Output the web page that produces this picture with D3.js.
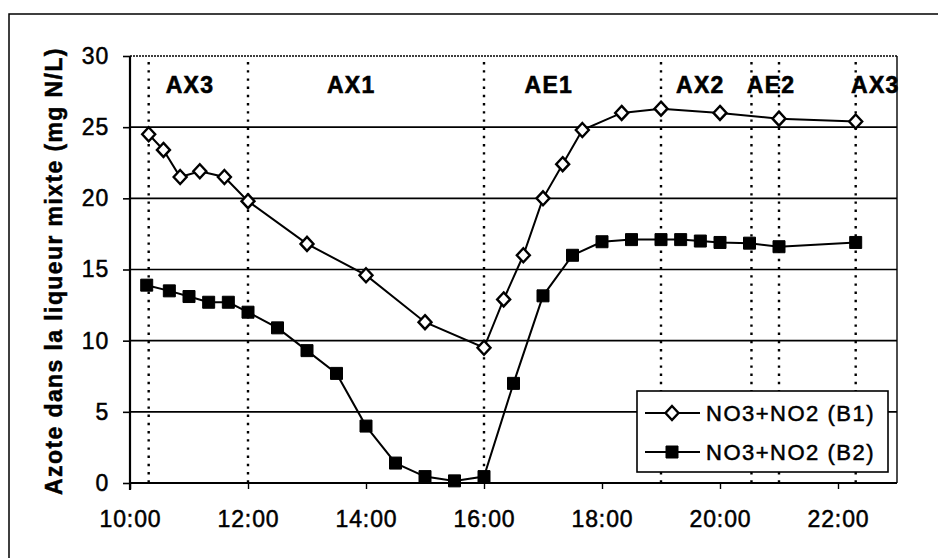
<!DOCTYPE html>
<html>
<head>
<meta charset="utf-8">
<script src="https://cdn.jsdelivr.net/npm/d3@7/dist/d3.min.js"></script>
<style>
  html, body { margin: 0; padding: 0; background: #fff; }
  svg { display: block; font-family: "Liberation Sans", Arial, sans-serif; }
</style>
</head>
<body>
<svg id="chart" width="938" height="558"></svg>
<script>
// Sampling times and NO3+NO2 concentrations (mg N/L) for the two basins
const b1Times  = ["10:19","10:34","10:51","11:11","11:36","12:00","13:00","14:00","15:00","16:00","16:20","16:40","17:00","17:20","17:40","18:20","19:00","20:00","21:00","22:18"];
const b1Values = [24.5, 23.4, 21.5, 21.9, 21.5, 19.8, 16.8, 14.6, 11.3, 9.5, 12.9, 16.0, 20.0, 22.4, 24.8, 26.0, 26.3, 26.0, 25.6, 25.4];

const b2Times  = ["10:17","10:40","11:00","11:20","11:40","12:00","12:30","13:00","13:30","14:00","14:30","15:00","15:30","16:00","16:30","17:00","17:30","18:00","18:30","19:00","19:20","19:40","20:00","20:30","21:00","22:18"];
const b2Values = [13.9, 13.5, 13.1, 12.7, 12.7, 12.0, 10.9, 9.3, 7.7, 4.0, 1.4, 0.45, 0.15, 0.45, 7.0, 13.15, 16.0, 16.95, 17.1, 17.1, 17.1, 17.0, 16.9, 16.85, 16.6, 16.9];

// Phase boundaries and phase names (anoxic / aerobic)
const phaseBounds = ["10:19","12:00","16:00","19:00","20:32","21:00","22:18"];
const phaseNames  = ["AX3","AX1","AE1","AX2","AE2","AX3"];
const phaseLabelTimes = ["11:01","13:45","17:06","19:40","20:52","22:38"];

const seriesNames = ["NO3+NO2 (B1)", "NO3+NO2 (B2)"];
const xTickTimes  = ["10:00","12:00","14:00","16:00","18:00","20:00","22:00"];
const yTicks      = [0, 5, 10, 15, 20, 25, 30];
const xDomain     = ["10:00","23:00"];
const yTitle      = "Azote dans la liqueur mixte (mg N/L)";

const toHours = s => { const [h, m] = s.split(":").map(Number); return h + m / 60; };

const svg = d3.select("#chart");
const plotLeft = 130, plotRight = 897, plotTop = 56, plotBottom = 483;

const x = d3.scaleLinear().domain(xDomain.map(toHours)).range([plotLeft, plotRight]);
const y = d3.scaleLinear().domain([0, 30]).range([plotBottom, plotTop]);

// outer chart frame
svg.append("rect")
  .attr("x", 9).attr("y", 14).attr("width", 960).attr("height", 580)
  .attr("fill", "none").attr("stroke", "#000").attr("stroke-width", 1.5);

// horizontal gridlines
svg.append("g").selectAll("line")
  .data(yTicks.filter(v => v > 0 && v < 30))
  .join("line")
  .attr("x1", plotLeft).attr("x2", plotRight)
  .attr("y1", d => y(d)).attr("y2", d => y(d))
  .attr("stroke", "#000").attr("stroke-width", 1.6);

// plot border: dotted top, solid right
svg.append("line")
  .attr("x1", plotLeft).attr("x2", plotRight).attr("y1", y(30)).attr("y2", y(30))
  .attr("stroke", "#000").attr("stroke-width", 1.4).attr("stroke-dasharray", "2 1");
svg.append("line")
  .attr("x1", plotRight).attr("x2", plotRight).attr("y1", y(30)).attr("y2", y(0))
  .attr("stroke", "#000").attr("stroke-width", 1.4);

// phase boundaries (dotted verticals)
svg.append("g").selectAll("line")
  .data(phaseBounds)
  .join("line")
  .attr("x1", d => x(toHours(d))).attr("x2", d => x(toHours(d)))
  .attr("y1", y(30) + 6).attr("y2", y(0))
  .attr("stroke", "#000").attr("stroke-width", 2.4)
  .attr("stroke-dasharray", "2.4 5.8");

// phase labels
svg.append("g").selectAll("text")
  .data(phaseNames)
  .join("text")
  .attr("x", (d, i) => x(toHours(phaseLabelTimes[i])))
  .attr("y", 93)
  .attr("text-anchor", "middle")
  .attr("font-size", 23).attr("font-weight", "bold")
  .attr("letter-spacing", 1.3)
  .attr("stroke", "#000").attr("stroke-width", 0.6)
  .text(d => d);

// y axis
const yAxis = d3.axisLeft(y).tickValues(yTicks).tickSize(7).tickPadding(14).tickFormat(d3.format("d"));
const gy = svg.append("g").attr("transform", `translate(${plotLeft},0)`).call(yAxis);
gy.select(".domain").attr("stroke-width", 2.2).attr("d", `M0,${y(30)}V${y(0) + 7}`);
gy.selectAll(".tick line").attr("stroke-width", 1.6);
gy.selectAll(".tick text")
  .attr("font-size", 23).attr("letter-spacing", 0.8)
  .attr("stroke", "#000").attr("stroke-width", 0.5)
  .attr("font-family", "Liberation Sans, Arial, sans-serif").attr("fill", "#000");

// x axis
const xAxis = d3.axisBottom(x).tickValues(xTickTimes.map(toHours)).tickSize(6).tickPadding(22)
  .tickFormat((d, i) => xTickTimes[i]);
const gx = svg.append("g").attr("transform", `translate(0,${plotBottom})`).call(xAxis);
gx.select(".domain").attr("stroke-width", 2.2).attr("d", `M${plotLeft},0H${plotRight}`);
gx.selectAll(".tick line").attr("stroke-width", 1.4);
gx.selectAll(".tick text")
  .attr("font-size", 23).attr("letter-spacing", 0.9)
  .attr("stroke", "#000").attr("stroke-width", 0.5)
  .attr("font-family", "Liberation Sans, Arial, sans-serif").attr("fill", "#000");

// y axis title
svg.append("text")
  .attr("transform", `translate(62,271) rotate(-90)`)
  .attr("text-anchor", "middle")
  .attr("font-size", 23).attr("font-weight", "bold")
  .attr("letter-spacing", 1.4)
  .attr("stroke", "#000").attr("stroke-width", 0.5)
  .text(yTitle);

// series
const line = d3.line().x(d => x(d.t)).y(d => y(d.v));
const b1 = b1Times.map((t, i) => ({ t: toHours(t), v: b1Values[i] }));
const b2 = b2Times.map((t, i) => ({ t: toHours(t), v: b2Values[i] }));

const diamond = "M0,-7L6.5,0L0,7L-6.5,0Z";
const square = "M-6,-6H6V6H-6Z";

svg.append("path").datum(b1).attr("d", line)
  .attr("fill", "none").attr("stroke", "#000").attr("stroke-width", 2);
svg.append("path").datum(b2).attr("d", line)
  .attr("fill", "none").attr("stroke", "#000").attr("stroke-width", 2);

svg.append("g").selectAll("path").data(b2).join("path")
  .attr("transform", d => `translate(${x(d.t)},${y(d.v)})`)
  .attr("d", square).attr("fill", "#000").attr("stroke", "#000").attr("stroke-width", 1);

svg.append("g").selectAll("path").data(b1).join("path")
  .attr("transform", d => `translate(${x(d.t)},${y(d.v)})`)
  .attr("d", diamond).attr("fill", "#fff").attr("stroke", "#000").attr("stroke-width", 2.4);

// legend
const lg = svg.append("g");
lg.append("rect").attr("x", 637).attr("y", 391).attr("width", 251).attr("height", 81)
  .attr("fill", "#fff").attr("stroke", "#000").attr("stroke-width", 1.6);
const rows = [{ name: seriesNames[0], mark: diamond, fill: "#fff", sw: 2.4 },
              { name: seriesNames[1], mark: square, fill: "#000", sw: 1 }];
rows.forEach((r, i) => {
  const cy = 413 + i * 39;
  lg.append("line").attr("x1", 645).attr("x2", 700).attr("y1", cy).attr("y2", cy)
    .attr("stroke", "#000").attr("stroke-width", 2);
  lg.append("path").attr("transform", `translate(672,${cy})`).attr("d", r.mark)
    .attr("fill", r.fill).attr("stroke", "#000").attr("stroke-width", r.sw);
  lg.append("text").attr("x", 706).attr("y", cy).attr("dy", "0.35em")
    .attr("font-size", 22).attr("letter-spacing", 1.5)
    .attr("stroke", "#000").attr("stroke-width", 0.5)
    .text(r.name);
});
</script>
</body>
</html>
